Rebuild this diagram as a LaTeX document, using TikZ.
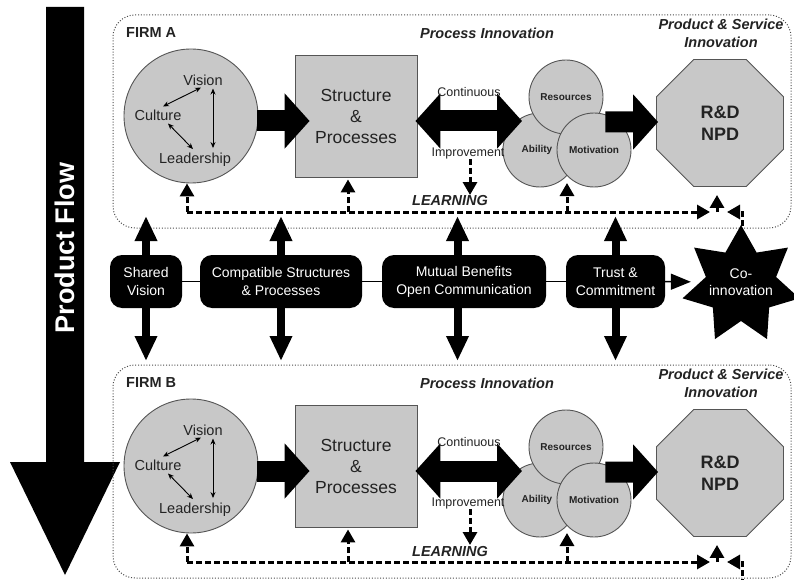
\documentclass[tikz,border=0pt]{standalone}
\usepackage{fontspec}
\setmainfont{Liberation Sans}
\usetikzlibrary{arrows.meta,shapes.geometric,calc}
\definecolor{boxgray}{RGB}{200,200,200}
\definecolor{edgegray}{RGB}{85,85,85}
\definecolor{txtgray}{RGB}{35,35,35}
\begin{document}
\begin{tikzpicture}[x=1pt,y=-1pt,
  firmbox/.style={draw=black!70, line width=1pt, dash pattern=on 1pt off 1.8pt, rounded corners=22pt, rectangle, inner sep=0},
  lg/.style={fill=boxgray, draw=edgegray, line width=0.9pt},
  ball/.style={lg, circle, minimum size=74pt, inner sep=0},
  bi/.style={font=\bfseries\itshape\fontsize{14.5}{18}\selectfont, text=txtgray, inner sep=0, align=center},
  tx/.style={font=\fontsize{14.5}{17}\selectfont, text=txtgray, inner sep=0},
  smalltx/.style={font=\fontsize{12.5}{15}\selectfont, text=txtgray, inner sep=0},
  bsmall/.style={font=\bfseries\fontsize{10}{12}\selectfont, text=txtgray, inner sep=0},
  thinarr/.style={line width=0.9pt, {Stealth[length=6pt,width=5pt]}-{Stealth[length=6pt,width=5pt]}},
  bigarr/.style={line width=21pt, -{Triangle[length=25pt,width=54pt]}},
  bigdbl/.style={line width=21pt, {Triangle[length=25pt,width=54pt]}-{Triangle[length=25pt,width=54pt]}},
  learn/.style={line width=3pt, dash pattern=on 6pt off 3pt, -{Triangle[length=13pt,width=14pt]}},
  midbox/.style={fill=black, rounded corners=12pt, text=white, align=center, font=\fontsize{14}{18}\selectfont, inner sep=0, minimum height=53pt},
  varr/.style={line width=8pt, -{Triangle[length=25pt,width=21pt]}},
  conn/.style={line width=1.5pt},
]
\useasboundingbox (0,0) rectangle (794,580);
\fill[white] (0,0) rectangle (794,580);

% product flow arrow
\fill[black] (46,7) -- (84,7) -- (84,462) -- (120,462) -- (65,575) -- (10,462) -- (46,462) -- cycle;
\node[rotate=90, text=white, font=\bfseries\fontsize{27}{32}\selectfont, inner sep=0] (pflow) at (65,248) {Product Flow};

\foreach \f/\dy in {A/0,B/350}{
\begin{scope}[shift={(0,\dy)}]
  \node[firmbox, minimum width=678pt, minimum height=213pt] (firm\f) at (452,121.5) {};
  \node[font=\bfseries\fontsize{14.5}{17}\selectfont, text=txtgray, anchor=west, inner sep=0] (flbl\f) at (126,33) {FIRM \f};
  \node[bi] (proc\f) at (487,33) {Process Innovation};
  \node[bi] (prod\f) at (721,33) {Product \& Service\\Innovation};

  % culture circle
  \node[lg, circle, minimum size=134pt, inner sep=0] (circ\f) at (191,116) {};
  \node[tx] (vis\f) at (203,80) {Vision};
  \node[tx] (cul\f) at (158,115) {Culture};
  \node[tx] (lead\f) at (195,160) {Leadership};
  \draw[thinarr] ($(cul\f.north)+(5,-3)$) -- ($(vis\f.south)+(-2,2)$);
  \draw[thinarr] ($(vis\f.south)+(10,3)$) -- ($(lead\f.north)+(18,-5)$);
  \draw[thinarr] ($(cul\f.south)+(10,3)$) -- ($(lead\f.north)+(-2,-4)$);

  % structure box
  \node[lg, rectangle, minimum width=122pt, minimum height=122pt, align=center, font=\fontsize{17.5}{21}\selectfont, text=txtgray] (struct\f) at (356,116) {Structure\\\&\\Processes};

  % cluster
  \node[ball] (abl\f) at (540,150) {};
  \node[ball] (res\f) at (566,97) {};
  \node[ball] (mot\f) at (594,150) {};
  \node[bsmall] (rest\f) at (566,97) {Resources};
  \node[bsmall] (ablt\f) at (537,150) {Ability};
  \node[bsmall] (mott\f) at (594,150) {Motivation};

  % octagon
  \node[lg, regular polygon, regular polygon sides=8, minimum size=137.5pt, inner sep=0, align=center, font=\bfseries\fontsize{18}{22}\selectfont, text=txtgray] (oct\f) at (720,123) {R\&D\\NPD};

  % block arrows
  \draw[bigarr] ($(circ\f.east)+(-1,5)$) -- ($(struct\f.west)+(15,5)$);
  \draw[bigdbl] ($(struct\f.east)+(-2,5)$) -- ($(abl\f.center)+(-18,-29)$);
  \draw[bigarr] ($(mot\f.east)+(-26,-28)$) -- ($(oct\f.west)+(2,-1)$);
  \node[smalltx] (cont\f) at (469,92) {Continuous};
  \node[smalltx] (imp\f) at (468,153) {Improvement};

  % learning loop
  \node[bi] (lrn\f) at (450,201) {LEARNING};
  \coordinate (ls\f) at (187,212);
  \coordinate (le\f) at (710,212);
  \coordinate (l2\f) at (348,212);
  \coordinate (l3\f) at (567,212);
  \coordinate (l4\f) at (717,212);
  \coordinate (clTip\f) at (567,183);
  \coordinate (impTip\f) at (470,195);
  \draw[learn] (ls\f) -- (le\f);
  \draw[learn] (ls\f) -- (ls\f |- circ\f.south);
  \draw[learn, shorten >=2pt] (l2\f) -- (l2\f |- struct\f.south);
  \draw[learn] (l3\f) -- (clTip\f);
  \draw[learn, shorten >=8pt] (l4\f) -- (l4\f |- oct\f.south);
  \draw[learn] (imp\f.south -| impTip\f) -- (impTip\f);
\end{scope}
}

% right-hand learning feeds
\coordinate (coTop) at (742,226);
\coordinate (rA) at (727,212);
\draw[learn] (coTop) |- (rA);
\coordinate (coBot) at (742,585);
\coordinate (rB) at (727,562);
\draw[learn] (coBot) |- (rB);

% middle row
\node[midbox, minimum width=72pt] (sv) at (146,281.5) {Shared\\Vision};
\node[midbox, minimum width=162pt] (csp) at (281,281.5) {Compatible Structures\\\& Processes};
\node[midbox, minimum width=164pt] (mb) at (464,281.5) {Mutual Benefits\\Open Communication};
\node[midbox, minimum width=99pt] (tc) at (615.5,281.5) {Trust \&\\Commitment};

\fill[black, shift={(741,285)}] (270:60) -- (295.714:36) -- (321.429:60) -- (347.143:36) -- (12.857:60) -- (38.571:36) -- (64.286:60) -- (90:36) -- (115.714:60) -- (141.429:36) -- (167.143:60) -- (192.857:36) -- (218.571:60) -- (244.286:36) -- cycle;
\node[circle, minimum size=100pt, inner sep=0, text=white, align=center, font=\fontsize{14}{17}\selectfont] (co) at (741,282) {Co-\\innovation};

\coordinate (upY) at (0,216);
\coordinate (dnY) at (0,361);
\coordinate (mbx) at ($(mb.center)+(-6.5,0)$);
\draw[varr] (sv.north) -- (sv.north |- upY);
\draw[varr] (sv.south) -- (sv.south |- dnY);
\draw[varr] (csp.north) -- (csp.north |- upY);
\draw[varr] (csp.south) -- (csp.south |- dnY);
\draw[varr] (mbx |- mb.north) -- (mbx |- upY);
\draw[varr] (mbx |- mb.south) -- (mbx |- dnY);
\draw[varr] (tc.north) -- (tc.north |- upY);
\draw[varr] (tc.south) -- (tc.south |- dnY);

\draw[conn] (sv) -- (csp);
\draw[conn] (csp) -- (mb);
\draw[conn] (mb) -- (tc);
\draw[conn, -{Triangle[length=20pt,width=16pt]}] (tc) -- (co);
\end{tikzpicture}
\end{document}
